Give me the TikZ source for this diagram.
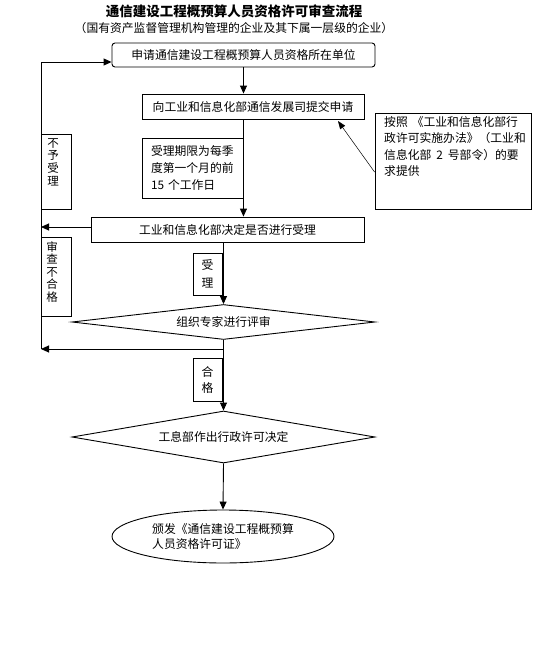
\documentclass[tikz,border=0pt]{standalone}
\usepackage{fontspec}
\setmainfont{Noto Sans CJK SC}
\usetikzlibrary{arrows.meta,shapes.geometric,calc}
\begin{document}
\begin{tikzpicture}[x=1pt,y=-1pt,
  base/.style={font=\fontsize{11.8}{16.5}\selectfont, inner sep=0pt},
  box/.style={base, draw, line width=0.9pt, rectangle},
  ln/.style={line width=0.9pt},
  arr/.style={line width=0.9pt, -{Triangle[length=8pt,width=7pt]}},
  thinarr/.style={line width=0.5pt, -{Triangle[length=8pt,width=6pt]}}]
\path[use as bounding box, fill=white] (0,0) rectangle (552,659);

\node[base, font=\fontsize{13.5}{15}\selectfont\bfseries] (title) at (234,11) {通信建设工程概预算人员资格许可审查流程};
\node[base] (sub) at (234,28) {（国有资产监督管理机构管理的企业及其下属一层级的企业）};

\node[box, rounded corners=3pt, minimum width=263pt, minimum height=24pt] (b1) at (243.5,55) {申请通信建设工程概预算人员资格所在单位};
\node[box, minimum width=222pt, minimum height=25pt] (b2) at (253,106.5) {向工业和信息化部通信发展司提交申请};
\node[box, minimum width=101pt, minimum height=60pt, align=left, text width=83pt, inner xsep=9pt, font=\fontsize{11.8}{17}\selectfont] (note) at (192.5,168) {受理期限为每季\\度第一个月的前\\15 个工作日};
\node[box, minimum width=273pt, minimum height=25pt] (b3) at (227.5,229.5) {工业和信息化部决定是否进行受理};

\node[box, minimum width=156pt, minimum height=96pt] (rb) at (453,161) {};
\node[base, anchor=north west, align=left] (rbt) at (384,116) {按照\hspace{4pt}《工业和信息化部行\\政许可实施办法》（工业和\\信息化部\hspace{5pt}2\hspace{5pt}号部令）的要\\求提供};

\node[box, minimum width=30pt, minimum height=75pt] (nb) at (56,171.5) {};
\node[base, align=center, font=\fontsize{11.5}{12.7}\selectfont] (nbt) at (53,162) {不\\予\\受\\理};
\node[box, minimum width=30pt, minimum height=79pt] (fb) at (56,276.5) {};
\node[base, align=center, font=\fontsize{11.5}{12.5}\selectfont] (fbt) at (52,272) {审\\查\\不\\合\\格};

\node[box, minimum width=29pt, minimum height=42pt, align=center, font=\fontsize{11.8}{18}\selectfont] (sb) at (207.5,274) {受\\理};
\node[box, minimum width=29pt, minimum height=43pt, align=center, font=\fontsize{11.8}{16}\selectfont] (hb) at (207.5,379.5) {合\\格};

\node[base, draw, ln, diamond, aspect=8.66, minimum width=303pt, minimum height=35pt] (d1) at (223.5,322) {组织专家进行评审};
\node[base, draw, ln, diamond, aspect=5.83, minimum width=303pt, minimum height=52pt] (d2) at (223.5,437) {工息部作出行政许可决定};

\node[base, draw, ln, ellipse, minimum width=222pt, minimum height=53pt, align=left, font=\fontsize{11.8}{15}\selectfont] (el) at (223,536.5) {颁发《通信建设工程概预算\\人员资格许可证》};

\coordinate (L1) at (41,62);
\coordinate (L2) at (41,349);
\coordinate (J) at (223.5,349);
\coordinate (rtip) at (338,121);

\draw[arr] (b1.south) -- (b1.south |- b2.north);
\draw[arr] (note.east |- b2.south) -- (note.east |- b3.north);
\draw[arr] (d1.north |- b3.south) -- (d1.north);
\draw[arr] (d1.south) -- (d2.north);
\draw[arr] (J) -- (L2);
\draw[arr] (L2) -- (L1) -- (b1.west |- L1);
\draw[arr] ([yshift=2.5pt]b3.west) -- ([yshift=2.5pt]b3.west -| L1);
\draw[arr] (d2.south) -- (el.north);
\draw[thinarr] ([yshift=-11pt]rb.west) -- (rtip);
\end{tikzpicture}
\end{document}
